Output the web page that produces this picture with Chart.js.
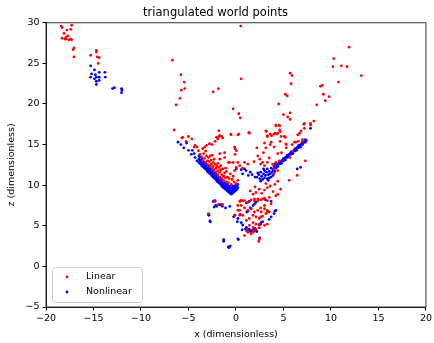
<!DOCTYPE html>
<html>
<head>
<meta charset="utf-8">
<script src="https://cdn.jsdelivr.net/npm/chart.js@4/dist/chart.umd.min.js"></script>
<style>
  html, body { margin: 0; padding: 0; background: #fff; }
  #wrap { width: 434px; height: 343px; }
</style>
</head>
<body>
<div id="wrap"><canvas id="worldPoints" width="434" height="343"></canvas></div>
<script>
// triangulated world points (x, z)
const chartTitle = 'triangulated world points';
const xTicks = [-20, -15, -10, -5, 0, 5, 10, 15, 20];
const yTicks = [-5, 0, 5, 10, 15, 20, 25, 30];

const linearPoints = [
  // top-left cluster
  [-18.3,29.4],[-17.3,29.7],[-17.8,29.1],[-17.4,29.2],[-18.1,28.7],[-17.7,28.4],[-18.3,28.1],[-18.0,28.0],
  [-17.9,28.0],[-17.6,27.9],[-17.4,28.0],[-17.3,27.9],[-17.05,26.9],[-17.15,26.7],[-17.05,25.8],[-18.4,29.6],[-17.9,28.2],
  [-15.3,26.0],[-14.7,26.6],[-14.7,26.4],[-14.6,25.8],[-14.4,25.7],[-14.5,25.0],
  // sparse upper middle
  [0.5,29.6],[-6.7,25.4],[-5.8,23.6],[-5.45,22.7],[-5.75,21.7],[-5.4,21.9],[-5.9,20.7],[-6.3,19.9],[0.55,23.1],
  [-1.85,21.9],[-2.4,21.5],[-0.3,19.4],[0.3,18.8],[0.45,18.3],[-6.5,16.8],[-1.8,16.7],[-5.6,15.9],[-5.7,15.8],
  [-4.65,15.7],[-1.8,16.0],[-1.5,16.0],[-1.4,15.8],[-0.55,16.3],[0.3,16.3],[1.35,16.5],[3.15,16.7],[3.3,16.0],
  [3.6,16.3],[3.75,16.1],
  // upper right
  [11.9,27.0],[10.3,25.6],[10.2,24.6],[11.1,24.7],[11.7,24.6],[13.2,23.5],[10.8,22.7],[5.7,23.8],[5.9,23.5],
  [5.8,22.5],[8.9,22.2],[9.1,22.3],[9.2,21.2],[9.8,20.9],[9.4,20.4],[8.5,19.9],[5.2,21.2],[5.4,21.0],[4.5,20.0],
  [5.7,18.9],[5.0,18.7],[5.45,18.4],[5.7,18.1],[8.2,17.9],[7.85,17.6],[7.2,17.6],[7.2,17.0],[6.85,16.7],[6.7,16.4],
  [6.5,16.2],[4.2,17.4],[4.6,17.3],[4.6,16.8],[4.65,16.6],[4.1,16.4],[4.3,16.3],[4.75,16.0],[5.2,15.9],[7.0,15.6],
  [7.05,15.4],[6.55,15.4],[6.15,15.3],[4.65,15.4],[3.7,15.3],[5.3,15.0],[5.9,15.0],
  // core, left side
  [-5.0,16.0],[-4.4,14.7],[-4.1,14.7],[-3.95,14.25],[-3.8,13.8],[-3.5,14.5],[-3.3,14.7],[-3.1,14.9],[-2.8,15.1],
  [-2.5,15.0],[-2.2,15.4],[-2.05,15.9],[-1.7,16.1],[-0.5,16.2],[0.2,16.2],[-2.5,13.7],[-1.7,13.9],[-1.2,13.4],
  [-0.15,14.7],[0.03,14.25],[-0.8,12.8],[-0.3,12.8],[0.4,12.4],[0.7,12.1],[-5.25,15.4],[-4.3,14.9],[-2.75,15.1],
  [-1.9,15.7],[-0.1,14.5],[-0.1,13.8],[-1.2,14.0],[-1.7,13.2],[-0.65,12.8],[0.2,12.8],[-0.15,11.8],[0.03,12.2],
  [0.2,10.6],[0.03,10.2],[0.55,8.1],[0.9,8.1],[-2.2,8.1],[-2.3,8.1],[-1.9,7.6],[-1.4,7.6],[-0.15,6.3],[-2.9,6.5],
  // red strip over the left arm
  [-3.6,13.5],[-3.5,13.0],[-3.4,13.9],[-3.3,13.3],[-3.2,12.8],[-3.1,13.6],[-3.0,13.0],[-2.9,12.5],[-2.9,13.4],
  [-2.8,12.9],[-2.7,12.3],[-2.6,13.1],[-2.6,12.6],[-2.5,12.0],[-2.4,12.8],[-2.4,12.3],[-2.3,11.9],[-2.2,12.6],
  [-2.1,12.1],[-2.1,11.6],[-2.0,12.4],[-1.9,11.8],[-1.9,11.3],[-1.8,12.2],[-1.7,11.6],[-1.7,11.0],[-1.6,11.9],
  [-1.5,11.3],[-1.5,10.8],[-1.4,12.0],[-1.3,11.1],[-1.3,10.6],[-1.2,11.5],[-1.1,10.9],[-1.0,10.4],[-1.0,11.7],
  [-0.9,11.0],[-0.8,10.3],[-0.7,10.8],[-0.6,11.4],[-0.5,10.1],[-0.4,10.7],[-0.3,11.1],[-0.2,10.4],[-3.2,14.2],
  [-2.7,13.6],[-2.3,13.2],[-1.9,12.7],[-1.6,12.4],[-1.1,12.1],
  // core, right side
  [1.4,16.4],[3.2,16.6],[3.3,16.1],[4.0,16.3],[4.4,16.4],[4.2,17.3],[4.55,17.4],[5.1,16.0],[5.25,15.1],[6.3,15.3],
  [7.15,17.5],[7.85,17.4],[3.15,14.6],[4.0,14.7],[4.4,13.9],[3.5,13.35],[2.8,12.8],[3.0,12.4],[2.6,12.6],[3.3,12.8],
  [3.85,12.6],[4.2,12.8],[4.55,13.0],[4.0,12.0],[4.4,11.8],[4.0,11.4],[4.4,10.5],[3.15,10.2],[3.3,9.7],[5.6,10.6],
  [7.3,13.0],[0.9,12.8],[1.25,12.6],[6.45,11.2],[2.3,13.6],[2.9,14.0],[3.6,15.0],[1.9,12.9],[2.5,13.2],[5.3,14.6],
  [6.0,14.2],[4.8,14.0],[5.7,13.4],[2.2,14.6],[3.0,15.2],
  // lower cluster
  [1.8,8.9],[2.1,9.1],[2.45,9.5],[1.95,8.3],[2.3,8.1],[1.25,7.9],[2.8,8.3],[3.5,8.5],[4.2,8.7],[3.0,7.5],[2.6,7.2],
  [4.7,9.5],[4.4,8.9],[3.7,7.7],[3.3,6.7],[2.6,6.1],[2.45,5.2],[1.8,4.4],[1.25,4.2],[0.9,3.8],[2.45,3.4],[2.4,3.1],
  [0.5,8.1],[0.2,6.9],[0.4,6.3],[0.4,8.0],[0.7,8.1],[1.6,8.2],[1.95,8.1],[2.3,8.3],[2.6,8.2],[3.0,8.4],[3.3,8.1],
  [0.55,7.5],[0.9,7.2],[1.25,6.9],[1.6,7.1],[1.95,6.7],[2.3,6.9],[2.65,6.7],[3.0,7.1],[3.3,6.9],[1.8,6.3],[2.1,6.1],
  [2.45,5.9],[1.4,5.9],[1.1,5.65],[1.8,5.4],[2.1,5.2],[2.8,6.2],[3.15,6.5],[3.5,6.7],[1.4,5.05],[1.8,4.8],[1.1,4.4],
  [1.6,4.0],[1.8,4.2],[3.0,5.05],[3.3,5.2],[2.1,4.6],[2.45,4.75],[0.7,6.3],[0.4,6.9],[0.2,7.5],[3.9,9.2],
  [4.1,10.1],[3.6,9.9],[2.0,9.8],[2.7,9.0],[1.5,9.3],[3.0,9.4]
];

const nonlinearPoints = [
  // top-left cluster
  [-15.3,24.7],[-14.9,24.2],[-15.2,23.7],[-14.8,23.6],[-14.4,23.9],[-13.8,23.9],[-15.3,23.3],[-14.9,23.1],
  [-14.7,23.3],[-14.4,23.3],[-14.4,22.9],[-14.7,22.8],[-13.75,23.3],[-14.7,22.4],[-12.8,22.0],[-13.0,21.9],
  [-12.05,21.9],[-12.0,21.7],[-12.05,21.4],
  // left arm
  [-5.8,15.0],[-5.0,14.3],[-4.7,13.8],[-4.1,13.0],[-5.5,14.6],[-4.4,13.9],[-4.3,13.4],[-3.9,13.6],[-4.6,14.3],
  [-5.2,15.2],[-6.1,15.3],
  [-3.9,12.8],[-3.9,13.2],[-3.8,12.7],[-3.8,13.1],[-3.8,13.5],[-3.7,12.6],[-3.7,12.9],[-3.6,12.4],[-3.6,12.8],
  [-3.6,13.2],[-3.5,12.3],[-3.5,12.7],[-3.4,12.2],[-3.4,12.5],[-3.4,12.9],[-3.3,12.1],[-3.3,12.4],[-3.2,12.0],
  [-3.2,12.3],[-3.2,12.7],[-3.1,11.9],[-3.1,12.2],[-3.0,11.7],[-3.0,12.1],[-3.0,12.5],[-2.9,11.6],[-2.9,12.0],
  [-2.8,11.5],[-2.8,11.9],[-2.8,12.3],[-2.7,11.4],[-2.7,11.7],[-2.6,11.3],[-2.6,11.6],[-2.6,12.0],[-2.5,11.1],
  [-2.5,11.5],[-2.4,11.0],[-2.4,11.4],[-2.4,11.8],[-2.3,10.9],[-2.3,11.2],[-2.2,10.8],[-2.2,11.1],[-2.2,11.5],
  [-2.1,10.7],[-2.1,11.0],[-2.0,10.5],[-2.0,10.9],[-2.0,11.3],[-1.9,10.4],[-1.9,10.8],[-1.8,10.3],[-1.8,10.6],
  [-1.8,11.0],[-1.7,10.2],[-1.7,10.5],[-1.6,10.1],[-1.6,10.4],[-1.6,10.8],[-1.5,9.9],[-1.5,10.3],[-1.4,9.8],
  [-1.4,10.2],[-1.4,10.6],[-1.3,9.7],[-1.3,10.0],[-1.2,9.6],[-1.2,9.9],[-1.2,10.3],[-1.1,9.5],[-1.1,9.8],
  [-1.0,9.4],[-1.0,9.7],[-1.0,10.1],[-0.9,9.3],[-0.9,9.6],[-0.9,10.0],[-0.8,9.2],[-0.8,9.5],[-0.8,9.9],
  [-0.7,9.1],[-0.7,9.4],[-0.7,9.8],[-0.6,9.0],[-0.6,9.3],[-0.6,9.7],[-0.5,8.9],[-0.5,9.2],[-0.5,9.6],[-0.5,10.0],
  [-0.4,9.0],[-0.4,9.3],[-0.4,9.7],[-0.3,9.1],[-0.3,9.4],[-0.3,9.8],[-0.2,9.2],[-0.2,9.5],[-0.2,9.9],[-0.1,9.3],
  [-0.1,9.7],[0.0,9.4],[0.0,9.8],[0.0,10.1],[0.1,9.5],[0.1,9.9],[0.2,9.7],[0.2,10.1],
  [0.03,12.0],[0.55,11.9],
  // right arm
  [0.7,11.4],[1.05,11.8],[1.3,11.2],[1.7,11.3],[2.0,11.0],[1.5,11.6],[0.9,12.0],
  [2.2,11.0],[2.4,11.3],[2.5,10.8],[2.6,11.6],[2.7,11.1],[2.8,10.7],[2.9,11.4],[3.0,11.8],[3.0,10.9],[3.1,11.2],
  [3.2,11.6],[3.3,10.8],[3.3,12.0],[3.4,11.3],[3.5,11.7],[3.5,10.9],[3.6,11.4],[3.7,12.1],[3.7,11.0],[3.8,11.6],
  [3.9,11.9],[3.9,11.2],[4.0,12.3],[4.1,11.7],[4.1,12.6],[4.2,12.1],[2.3,11.5],[2.6,10.5],[3.4,10.6],[2.9,12.0],
  [4.3,12.4],[4.4,12.6],[4.4,12.3],[4.5,12.7],[4.6,12.6],[4.6,12.9],[4.7,12.8],[4.8,13.0],[4.8,12.7],[4.9,13.1],
  [5.0,13.0],[5.0,13.3],[5.1,13.2],[5.2,13.4],[5.2,13.1],[5.3,13.5],[5.4,13.4],[5.4,13.7],[5.5,13.6],[5.6,13.8],
  [5.6,13.5],[5.7,13.9],[5.8,13.8],[5.8,14.1],[5.9,14.0],[6.0,14.2],[6.0,13.9],[6.1,14.3],[6.2,14.2],[6.2,14.5],
  [6.3,14.4],[6.4,14.6],[6.4,14.3],[6.5,14.7],[6.6,14.6],[6.6,14.9],[6.7,14.8],[6.8,15.0],[6.8,14.7],[6.9,15.1],
  [7.0,15.0],[7.0,15.3],[7.1,15.2],[7.2,15.4],[7.3,15.3],[7.3,15.6],[7.4,15.5],
  [6.45,12.0],[6.8,12.2],[7.85,17.0],
  // lower scatter
  [-2.2,8.0],[-2.3,7.3],[-2.05,7.4],[-1.7,7.6],[-1.45,7.4],[-1.1,7.2],[-0.65,7.4],[-2.85,6.3],[-2.7,5.5],
  [-1.3,3.3],[-1.3,3.1],[-0.75,2.3],[-0.6,2.5],[0.25,3.3],[-0.25,6.1],[-0.1,6.3],[0.15,5.5],[0.2,5.9],[0.45,6.4],
  [0.7,5.1],[0.65,4.5],[1.0,4.6],[1.25,4.5],[1.4,4.6],[1.6,4.4],[1.8,4.5],[1.95,4.4],[2.1,4.5],[2.5,3.5],
  [1.25,6.8],[1.15,6.7],[1.5,7.2],[1.8,7.5],[1.95,7.7],[2.1,7.9],[2.45,5.1],[2.65,5.4],[2.8,5.5],[3.5,5.8],
  [3.7,6.1],[4.0,6.5],[4.1,6.8],[4.2,6.9],[1.4,8.0],[3.1,8.2],[3.7,8.0],[0.55,5.4],[-2.4,8.0],[-2.15,7.5],
  [-1.5,7.6],[-2.9,6.4],[-2.75,5.6],[1.1,4.8],[1.5,4.3],[2.0,4.7],[2.2,4.3],[2.6,5.2],[0.2,3.4],[-0.8,2.4],[1.1,7.8]
];

const seriesLabels = ['Linear', 'Nonlinear'];
const seriesColors = ['#ff0000', '#0000ff'];

const toXY = pts => pts.map(p => ({ x: p[0], y: p[1] }));
const minus = v => String(v).replace('-', '\u2212');
const FONT = "'DejaVu Sans', sans-serif";

// full box around the axes, matplotlib style
const frameBox = {
  id: 'frameBox',
  afterDraw(chart) {
    const { ctx, chartArea: a } = chart;
    ctx.save();
    ctx.strokeStyle = '#000';
    ctx.lineWidth = 0.8;
    ctx.strokeRect(a.left, a.top, a.right - a.left, a.bottom - a.top);
    ctx.restore();
  }
};

// legend box in the lower-left corner of the axes
const cornerLegend = {
  id: 'cornerLegend',
  afterDraw(chart) {
    const { ctx, chartArea: a } = chart;
    const x = a.left + 6, w = 90, h = 35, y = a.bottom - 5 - h;
    ctx.save();
    ctx.fillStyle = 'rgba(255,255,255,0.8)';
    ctx.strokeStyle = '#cccccc';
    ctx.lineWidth = 1;
    ctx.beginPath();
    ctx.roundRect(x + 0.5, y + 0.5, w, h, 3);
    ctx.fill();
    ctx.stroke();
    ctx.font = `9.5px ${FONT}`;
    ctx.textBaseline = 'middle';
    chart.data.datasets.forEach((ds, i) => {
      const cy = y + 10 + i * 15;
      ctx.fillStyle = ds.backgroundColor;
      ctx.beginPath();
      ctx.arc(x + 15, cy, 1.4, 0, Math.PI * 2);
      ctx.fill();
      ctx.fillStyle = '#000';
      ctx.fillText(ds.label, x + 34, cy);
    });
    ctx.restore();
  }
};

new Chart(document.getElementById('worldPoints'), {
  type: 'scatter',
  data: {
    datasets: [
      { label: seriesLabels[0], data: toXY(linearPoints), backgroundColor: seriesColors[0],
        pointRadius: 1.4, pointBorderWidth: 0 },
      { label: seriesLabels[1], data: toXY(nonlinearPoints), backgroundColor: seriesColors[1],
        pointRadius: 1.4, pointBorderWidth: 0 }
    ]
  },
  options: {
    responsive: false,
    animation: false,
    layout: { padding: { right: 3 } },
    plugins: {
      legend: { display: false },
      tooltip: { enabled: false },
      title: {
        display: true, text: chartTitle, color: '#000',
        font: { family: FONT, size: 11.5, weight: 'normal' },
        padding: { top: 6, bottom: 3 }
      }
    },
    scales: {
      x: {
        min: -20, max: 20,
        afterBuildTicks: s => { s.ticks = xTicks.map(v => ({ value: v })); },
        afterFit: s => { s.height = 36; },
        grid: { drawOnChartArea: false, drawTicks: true, tickLength: 3.5, color: '#000' },
        border: { color: '#000', width: 0.8 },
        ticks: { color: '#000', padding: 2, font: { family: FONT, size: 9.5 }, callback: minus },
        title: { display: true, text: 'x (dimensionless)', color: '#000',
                 font: { family: FONT, size: 9.5 }, padding: { top: 0, bottom: 3 } }
      },
      y: {
        min: -5, max: 30,
        afterBuildTicks: s => { s.ticks = yTicks.map(v => ({ value: v })); },
        afterFit: s => { s.width = 46; },
        grid: { drawOnChartArea: false, drawTicks: true, tickLength: 3.5, color: '#000' },
        border: { color: '#000', width: 0.8 },
        ticks: { color: '#000', padding: 3, font: { family: FONT, size: 9.5 }, callback: minus },
        title: { display: true, text: 'z (dimensionless)', color: '#000',
                 font: { family: FONT, size: 9.5 }, padding: { top: 6, bottom: 0 } }
      }
    }
  },
  plugins: [frameBox, cornerLegend]
});
</script>
</body>
</html>
